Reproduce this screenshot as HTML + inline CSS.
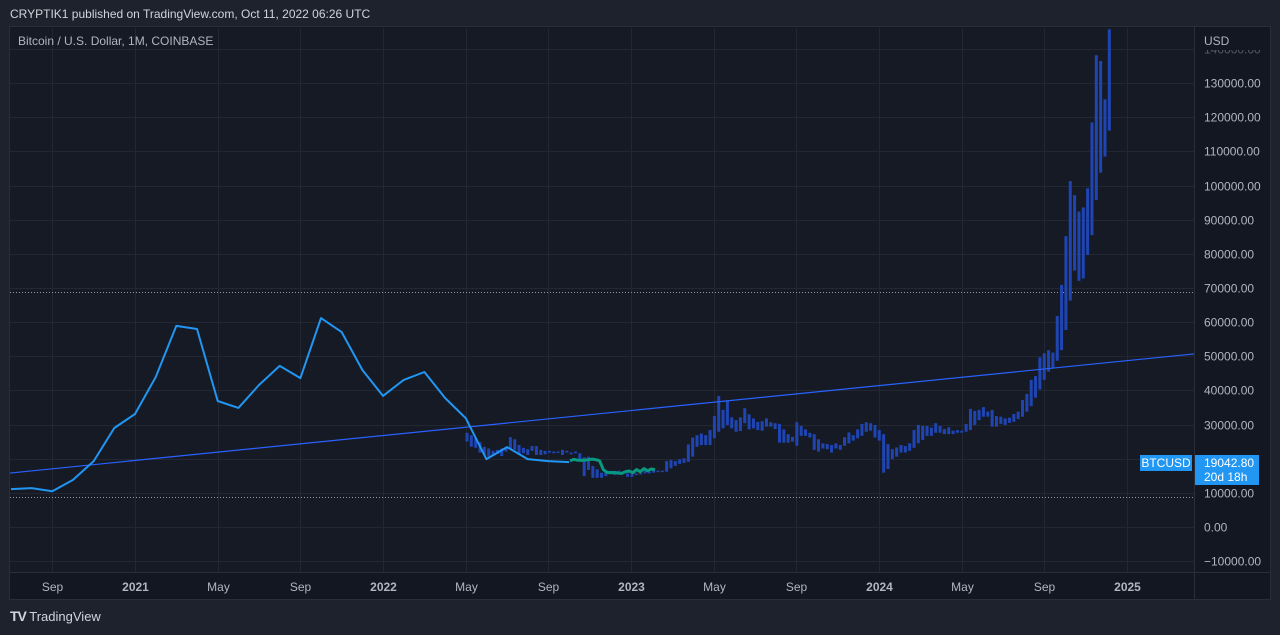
<!DOCTYPE html>
<html><head><meta charset="utf-8">
<style>
html,body{margin:0;padding:0;background:#1e222d;width:1280px;height:635px;overflow:hidden;font-family:"Liberation Sans",sans-serif;}
#hdr{position:absolute;left:10px;top:7px;color:#d1d4dc;font-size:12px;}
#logo{position:absolute;left:10px;top:608px;color:#d1d4dc;font-size:13px;}
svg{position:absolute;left:0;top:0;}
</style></head><body>
<div id="hdr">CRYPTIK1 published on TradingView.com, Oct 11, 2022 06:26 UTC</div>
<div id="logo"><b style="font-size:14px;letter-spacing:-1px">TV</b> TradingView</div>
<svg id="chart" width="1280" height="635"></svg>
<script>
// monthly close line series (thousands USD), Jul 2020 .. Oct 2022 (month index rel. Jan 2021)
const lineStartMonth = -6;
const lineValues = [11.1,11.4,10.5,13.8,19.3,29.0,33.1,43.9,58.9,58.0,36.9,34.9,41.6,47.2,43.6,61.2,57.1,46.0,38.4,43.1,45.4,37.8,31.9,19.9,23.4,19.9,19.3,19.0];
// lower-timeframe green line
const greenValues = [19.4,19.8,19.6,19.5,19.6,19.7,19.9,19.7,19.4,16.8,16.0,15.9,16.0,15.8,15.7,16.2,16.4,15.9,16.8,16.2,17.1,16.5,17.0,16.8];
// projected weekly bars: high / low (thousands)
const barHigh = [27.6,26.9,26.0,24.8,23.5,23.0,22.3,22.6,23.0,23.5,26.3,25.7,24.0,23.2,22.8,23.7,23.7,22.6,22.3,22.3,22.1,22.1,22.6,22.3,21.8,22.1,21.6,20.4,20.6,17.9,16.9,15.9,16.7,16.5,16.2,16.5,16.2,15.7,15.5,15.7,15.9,16.5,16.2,16.5,16.5,16.5,19.3,19.6,19.3,19.8,20.1,24.2,26.2,26.9,27.4,26.9,28.4,32.5,38.4,34.3,37.0,32.1,31.3,32.1,34.8,33.0,31.8,30.8,
31.0,31.8,30.7,30.4,30.2,28.6,27.2,26.4,30.7,29.6,28.6,27.6,27.2,25.7,24.5,24.3,24.0,24.5,24.0,26.3,27.7,26.9,28.6,30.2,30.7,30.4,29.9,28.4,27.2,24.3,22.8,23.3,24.0,23.7,24.5,28.4,29.9,29.6,29.6,29.1,30.4,29.6,28.7,29.2,28.2,28.4,28.2,30.2,34.6,34.0,34.3,35.1,33.8,34.3,32.5,32.3,31.8,32.0,33.1,33.8,37.2,39.0,43.1,44.2,49.7,50.9,51.8,51.1,61.8,70.9,85.2,101.3,97.2,92.4,93.6,99.2,118.5,138.2,136.5,125.3,145.8];
const barLow = [25.0,23.5,23.2,21.8,21.1,20.6,20.8,21.4,20.8,22.1,22.8,22.6,21.1,21.6,21.1,22.3,21.1,21.1,21.3,21.8,21.6,21.8,21.1,21.8,21.3,21.6,19.6,14.9,16.7,14.4,14.4,14.4,14.9,15.5,15.2,15.5,15.7,14.7,14.7,15.2,15.4,15.7,15.7,15.9,16.1,16.1,16.2,17.2,17.9,18.5,18.8,19.1,20.6,23.5,24.0,24.0,24.0,26.0,27.9,28.9,29.9,28.9,27.9,28.1,30.4,28.6,28.9,28.4,
28.2,29.4,29.4,28.7,24.7,24.7,24.7,25.0,23.8,26.7,26.7,26.2,22.6,22.1,23.0,22.8,21.8,23.0,22.6,23.8,24.5,25.3,26.0,26.7,27.9,28.2,26.2,25.3,15.9,17.0,19.9,20.6,21.8,21.8,22.3,23.2,24.5,25.5,26.7,26.7,27.6,27.6,27.2,27.2,27.2,27.6,27.6,27.9,28.4,29.9,31.3,32.3,32.3,29.4,29.4,30.2,29.9,30.5,30.8,31.6,32.3,33.8,35.4,37.9,40.3,43.1,45.5,46.5,48.7,51.8,57.7,66.3,75.1,72.1,72.8,79.7,85.5,95.8,103.8,108.5,116.1];
const priceTicks = [-10,0,10,20,30,40,50,60,70,80,90,100,110,120,130,140];
const timeLabels = ["Sep","2021","May","Sep","2022","May","Sep","2023","May","Sep","2024","May","Sep","2025"];
const timeLabelMonths = [-4,0,4,8,12,16,20,24,28,32,36,40,44,48];
const trendStart = 15.8, trendEnd = 50.7; // at chart left / right edges
const dottedLevels = [68.8, 8.8];
const lastPrice = 19.0428;

const NS="http://www.w3.org/2000/svg";
const svg=document.getElementById('chart');
const L=10,R=1194,T=28,B=572;
const y=v=>527-v*3.414;
const xm=m=>135+m*20.67;
const barX0=467,barStep=4.34;
const xb=i=>barX0+i*barStep;
function mk(tag,attrs,parent){const e=document.createElementNS(NS,tag);for(const k in attrs)e.setAttribute(k,attrs[k]);(parent||svg).appendChild(e);return e;}

let p=mk('rect',{x:9.5,y:26.5,width:1261,height:573,fill:'#131722',stroke:'#2a2e39'});


mk('rect',{x:L,y:T,width:R-L,height:B-T,fill:'#161a25'});
mk('line',{x1:R+0.5,y1:27,x2:R+0.5,y2:599,stroke:'#2a2e39'});
mk('line',{x1:10,y1:B+0.5,x2:1270,y2:B+0.5,stroke:'#2a2e39'});

const clip=mk('clipPath',{id:'pc'});mk('rect',{x:L,y:T,width:R-L,height:B-T},clip);
const g=mk('g',{'clip-path':'url(#pc)'});

priceTicks.forEach(v=>{
  const yy=Math.round(y(v))+0.5;
  const gl=mk('line',{x1:L,y1:yy,x2:R,y2:yy,stroke:'#232733'},g);
  
  
  const t=mk('text',{x:1204,y:yy+4,fill:v===140?'#555a66':'#b2b5be','font-size':12,'font-family':'Liberation Sans, sans-serif'});
  t.textContent=v===0?'0.00':(v<0?'\u2212':'')+Math.abs(v*1000)+'.00';
  
  
});
timeLabels.forEach((s,i)=>{
  const xx=Math.round(xm(timeLabelMonths[i]))+0.5;
  const gl=mk('line',{x1:xx,y1:T,x2:xx,y2:B,stroke:'#232733'},g);
  
  
  const yr=/^\d{4}$/.test(s);
  const t=mk('text',{x:xx,y:591,fill:'#b2b5be','font-size':12,'text-anchor':'middle','font-weight':yr?'bold':'normal','font-family':'Liberation Sans, sans-serif'});
  t.textContent=s;
  
  
});
mk('rect',{x:1196,y:29,width:72,height:21,fill:'#131722'});
let ut=mk('text',{x:1204,y:45,fill:'#b2b5be','font-size':12,'font-family':'Liberation Sans, sans-serif'});ut.textContent='USD';



dottedLevels.forEach(v=>{
  const d=mk('line',{x1:L,y1:Math.round(y(v))+0.5,x2:R,y2:Math.round(y(v))+0.5,stroke:'#9598a1','stroke-dasharray':'1,2','stroke-width':1},g);
  
  
});

barHigh.forEach((h,i)=>{
  const top=y(h),bot=y(barLow[i]);
  const r=mk('rect',{x:xb(i)-1.5,y:top,width:3,height:Math.max(1.5,bot-top),fill:'#1f45b3'},g);
  
  
});

const tl=mk('line',{x1:L,y1:y(trendStart),x2:R,y2:y(trendEnd),stroke:'#2962ff','stroke-width':1.2},g);



const pts=lineValues.map((v,i)=>xm(lineStartMonth+i).toFixed(1)+','+y(v).toFixed(1)).join(' ');
const pl=mk('polyline',{points:pts,fill:'none',stroke:'#2196f3','stroke-width':2,'stroke-linejoin':'round'},g);



const gx0=570,gstep=(655-570)/(greenValues.length-1);
const gp=greenValues.map((v,i)=>(gx0+i*gstep).toFixed(1)+','+y(v).toFixed(1)).join(' ');
const gl2=mk('polyline',{points:gp,fill:'none',stroke:'#089981','stroke-width':3,'stroke-linejoin':'round'},g);



const ly=y(lastPrice);
const sym=mk('rect',{x:1140,y:ly-7,width:52,height:16,fill:'#2196f3'});


const st=mk('text',{x:1166,y:ly+5,fill:'#fff','font-size':12,'text-anchor':'middle','font-family':'Liberation Sans, sans-serif'});st.textContent='BTCUSD';
const pr=mk('rect',{x:1195,y:ly-7,width:64,height:30,fill:'#2196f3'});


const pt1=mk('text',{x:1204,y:ly+5,fill:'#fff','font-size':12,'font-family':'Liberation Sans, sans-serif'});pt1.textContent='19042.80';
const pt2=mk('text',{x:1204,y:ly+19,fill:'#fff','font-size':12,'font-family':'Liberation Sans, sans-serif'});pt2.textContent='20d 18h';

const ttl=mk('text',{x:18,y:45,fill:'#b2b5be','font-size':12,'font-family':'Liberation Sans, sans-serif'});
ttl.textContent='Bitcoin / U.S. Dollar, 1M, COINBASE';


</script>
</body></html>
